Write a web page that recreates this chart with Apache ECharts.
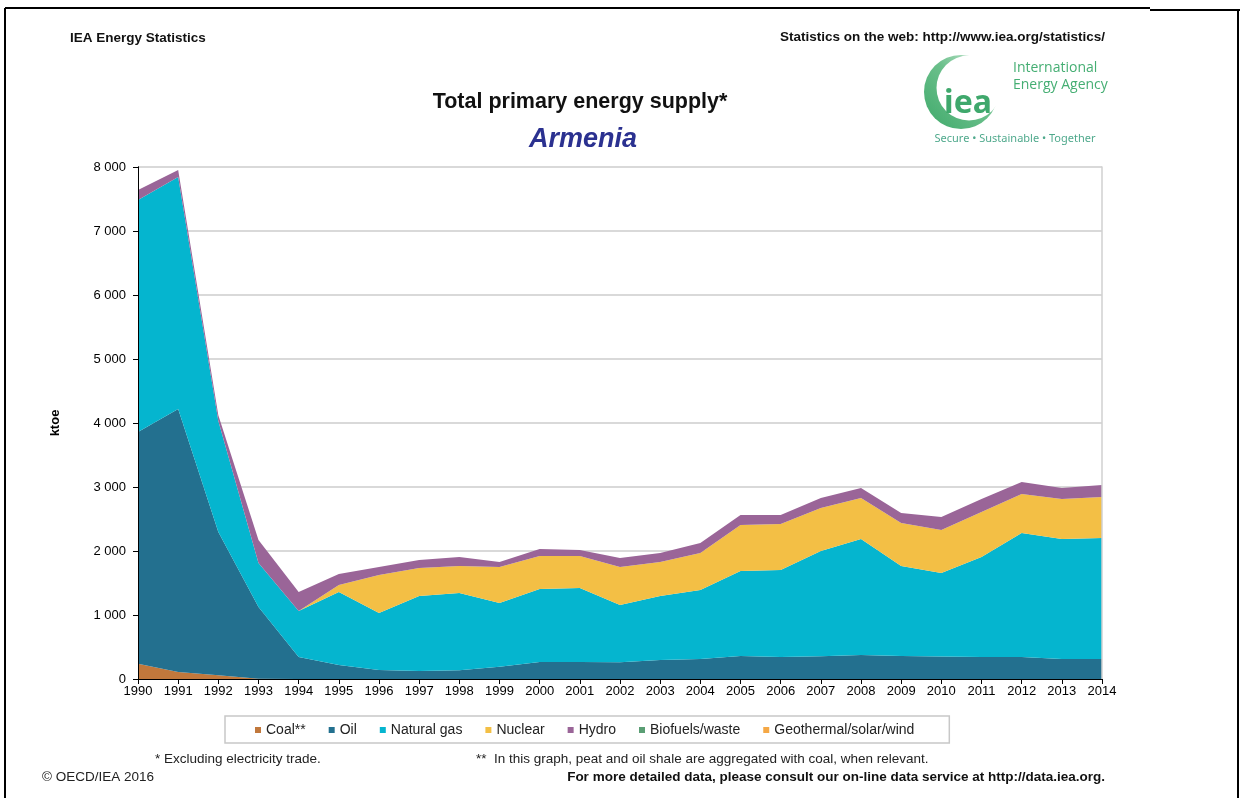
<!DOCTYPE html>
<html>
<head>
<meta charset="utf-8">
<script src="https://cdn.jsdelivr.net/npm/echarts@6/dist/echarts.min.js"></script>
<style>
html,body{margin:0;padding:0;background:#fff;}
#chart{width:1240px;height:798px;}
</style>
</head>
<body>
<div id="chart"></div>
<script>
// ---- data (ktoe) ----
var years = ['1990','1991','1992','1993','1994','1995','1996','1997','1998','1999','2000','2001','2002','2003','2004','2005','2006','2007','2008','2009','2010','2011','2012','2013','2014'];
var coal       = [240, 110, 60, 5, 0, 0, 0, 0, 0, 0, 0, 0, 0, 0, 0, 0, 0, 0, 0, 0, 0, 0, 0, 0, 0];
var oil        = [3620, 4110, 2237, 1120, 344, 219, 140, 125, 135, 190, 266, 266, 260, 297, 313, 360, 344, 355, 375, 360, 350, 344, 344, 313, 313];
var naturalGas = [3624, 3624, 1733, 687, 719, 1141, 891, 1172, 1209, 997, 1140, 1156, 896, 1000, 1077, 1328, 1359, 1645, 1812, 1406, 1306, 1562, 1937, 1874, 1890];
var nuclear    = [0, 0, 0, 0, 0, 109, 594, 437, 422, 563, 516, 500, 594, 531, 579, 718, 719, 672, 641, 671, 672, 703, 609, 625, 641];
var hydro      = [156, 110, 90, 360, 297, 171, 125, 126, 140, 78, 109, 94, 140, 141, 156, 156, 140, 156, 156, 157, 203, 203, 188, 172, 187];
var biofuels   = [0, 0, 0, 0, 0, 0, 0, 0, 0, 0, 1, 1, 1, 1, 1, 1, 1, 1, 1, 1, 1, 1, 1, 1, 1];
var geoSolarWind = [0, 0, 0, 0, 0, 0, 0, 0, 0, 0, 0, 0, 0, 0, 0, 0, 0, 0, 0, 0, 0, 0, 1, 1, 2];
var yTickLabels = ['0', '1 000', '2 000', '3 000', '4 000', '5 000', '6 000', '7 000', '8 000'];

var seriesNames = ['Coal**', 'Oil', 'Natural gas', 'Nuclear', 'Hydro', 'Biofuels/waste', 'Geothermal/solar/wind'];
var seriesData = [coal, oil, naturalGas, nuclear, hydro, biofuels, geoSolarWind];
var seriesColors = ['#C1783C', '#23708F', '#05B5CF', '#F3BF45', '#9A6598', '#5A9E74', '#F5A845'];

var FONT = '"Liberation Sans", Arial, sans-serif';

var chart = echarts.init(document.getElementById('chart'), null, {renderer: 'canvas'});

var series = seriesNames.map(function (name, i) {
  return {
    name: name,
    type: 'line',
    stack: 'total',
    data: seriesData[i],
    symbol: 'none',
    lineStyle: {width: 0, color: seriesColors[i]},
    itemStyle: {color: seriesColors[i]},
    areaStyle: {color: seriesColors[i], opacity: 1},
    emphasis: {disabled: true},
    z: 3
  };
});

function borderAxis(pos, color, z) {
  return {
    type: 'value', position: pos, min: 0, max: 8000, interval: 1000, z: z,
    axisLine: {show: true, lineStyle: {color: color, width: pos === 'left' ? 1 : 1.5}},
    axisTick: {show: false}, axisLabel: {show: false}, splitLine: {show: false}
  };
}

var option = {
  animation: false,
  backgroundColor: '#ffffff',
  textStyle: {fontFamily: FONT},
  grid: {left: 138, right: 138, top: 167, bottom: 119, containLabel: false},
  legend: {
    data: seriesNames,
    left: 225,
    top: 716,
    orient: 'horizontal',
    icon: 'rect',
    itemWidth: 6,
    itemHeight: 6,
    itemGap: 23,
    padding: [7, 35, 6, 30],
    borderColor: '#C8C8C8',
    borderWidth: 1.5,
    textStyle: {fontFamily: FONT, fontSize: 14, color: '#222'}
  },
  xAxis: {
    type: 'category',
    data: years,
    boundaryGap: false,
    axisLine: {show: true, lineStyle: {color: '#000', width: 1}},
    axisTick: {show: true, interval: 0, length: 5, lineStyle: {color: '#000'}},
    axisLabel: {interval: 0, margin: 6, fontFamily: FONT, fontSize: 13, color: '#000'},
    splitLine: {show: false},
    z: 6
  },
  yAxis: [{
    type: 'value',
    min: 0,
    max: 8000,
    interval: 1000,
    name: 'ktoe',
    nameLocation: 'middle',
    nameRotate: 90,
    nameGap: 76,
    nameTextStyle: {fontFamily: FONT, fontSize: 13, fontWeight: 'bold', color: '#000'},
    axisLine: {show: true, lineStyle: {color: '#000', width: 1}},
    axisTick: {show: true, length: 5, lineStyle: {color: '#000'}},
    axisLabel: {
      margin: 12, fontFamily: FONT, fontSize: 13, color: '#000',
      formatter: function (v) { return yTickLabels[Math.round(v / 1000)]; }
    },
    splitLine: {show: true, lineStyle: {color: '#D9D9D9', width: 2}},
    z: 0
  },
  borderAxis('right', '#D0D0D0', 6),
  borderAxis('left', '#000', 6)
  ],
  series: series,
  graphic: [
    // page frame
    {type: 'line', shape: {x1: 5, y1: 8, x2: 1150, y2: 8}, style: {stroke: '#000', lineWidth: 2}, silent: true},
    {type: 'line', shape: {x1: 1150, y1: 10, x2: 1240, y2: 10}, style: {stroke: '#000', lineWidth: 2}, silent: true},
    {type: 'line', shape: {x1: 5, y1: 8, x2: 5, y2: 798}, style: {stroke: '#000', lineWidth: 2}, silent: true},
    {type: 'line', shape: {x1: 1238, y1: 10, x2: 1238, y2: 798}, style: {stroke: '#000', lineWidth: 2}, silent: true},
    // header texts
    {type: 'text', x: 70, y: 38, style: {text: 'IEA Energy Statistics', font: 'bold 13.5px ' + FONT, fill: '#111', textVerticalAlign: 'middle'}},
    {type: 'text', x: 1105, y: 37, style: {text: 'Statistics on the web: http://www.iea.org/statistics/', font: 'bold 13.5px ' + FONT, fill: '#111', textAlign: 'right', textVerticalAlign: 'middle'}},
    // titles
    {type: 'text', x: 580, y: 102, style: {text: 'Total primary energy supply*', font: 'bold 21.5px ' + FONT, fill: '#111', textAlign: 'center', textVerticalAlign: 'middle'}},
    {type: 'text', x: 583, y: 140, style: {text: 'Armenia', font: 'italic bold 27px ' + FONT, fill: '#2B3190', textAlign: 'center', textVerticalAlign: 'middle'}},
    // IEA logo
    {type: 'circle', z: 10, shape: {cx: 961, cy: 92, r: 37},
      style: {fill: new echarts.graphic.LinearGradient(1, 0, 0, 1, [{offset: 0, color: '#D8F0E0'}, {offset: 0.45, color: '#6CC08C'}, {offset: 1, color: '#3EA96A'}])}},
    {type: 'circle', z: 11, shape: {cx: 969, cy: 88, r: 32.5}, style: {fill: '#fff'}},
    {type: 'text', z: 12, x: 968, y: 104, style: {text: 'iea', font: 'bold 32px "Noto Sans", sans-serif', fill: '#3FA86C', textAlign: 'center', textVerticalAlign: 'middle'}},
    {type: 'text', z: 12, x: 1013, y: 68, style: {text: 'International', font: '14px "Open Sans", sans-serif', fill: '#45AE73', textVerticalAlign: 'middle'}},
    {type: 'text', z: 12, x: 1013, y: 85, style: {text: 'Energy Agency', font: '14px "Open Sans", sans-serif', fill: '#45AE73', textVerticalAlign: 'middle'}},
    {type: 'text', z: 12, x: 1015, y: 139, style: {text: 'Secure \u2022 Sustainable \u2022 Together', font: '11px "Noto Sans", sans-serif', fill: '#4FA98C', textAlign: 'center', textVerticalAlign: 'middle'}},
    // footnotes
    {type: 'text', x: 155, y: 759, style: {text: '* Excluding electricity trade.', font: '13.5px ' + FONT, fill: '#222', textVerticalAlign: 'middle'}},
    {type: 'text', x: 476, y: 759, style: {text: '**  In this graph, peat and oil shale are aggregated with coal, when relevant.', font: '13.5px ' + FONT, fill: '#222', textVerticalAlign: 'middle'}},
    {type: 'text', x: 42, y: 777, style: {text: '\u00A9 OECD/IEA 2016', font: '13.5px ' + FONT, fill: '#222', textVerticalAlign: 'middle'}},
    {type: 'text', x: 1105, y: 777, style: {text: 'For more detailed data, please consult our on-line data service at http://data.iea.org.', font: 'bold 13.5px ' + FONT, fill: '#111', textAlign: 'right', textVerticalAlign: 'middle'}}
  ]
};
chart.setOption(option);
</script>
</body>
</html>
